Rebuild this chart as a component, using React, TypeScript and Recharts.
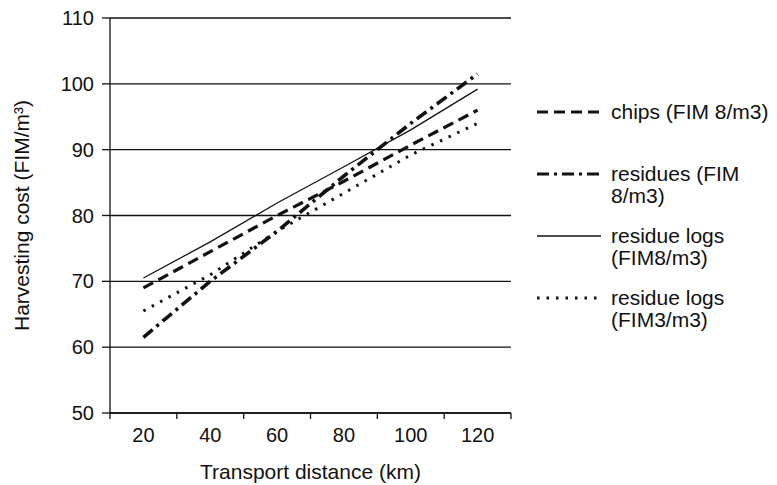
import { LineChart, Line, XAxis, YAxis, CartesianGrid } from 'recharts';

const DISTANCES = [20, 40, 60, 80, 100, 120];
const CHIPS = [69, 74.5, 80, 85.2, 90.7, 96];
const RESIDUES = [61.5, 70, 77.6, 86, 94, 101.5];
const RESIDUE_LOGS_8 = [70.5, 76, 81.9, 87.4, 93, 99.2];
const RESIDUE_LOGS_3 = [65.5, 71, 77.6, 83.4, 89.2, 94];

const X_TICKS = [10, 20, 30, 40, 50, 60, 70, 80, 90, 100, 110, 120, 130];
const Y_TICKS = [50, 60, 70, 80, 90, 100, 110];

const FONT = '"Liberation Sans", Arial, sans-serif';
const INK = '#111';
const TICK = 6;

const SERIES = [
  { key: 'chips', label: ['chips (FIM 8/m3)'], width: 3.2, dash: '11 6' },
  { key: 'residues', label: ['residues (FIM', '8/m3)'], width: 3.6, dash: '12 5 3 5' },
  { key: 'logs8', label: ['residue logs', '(FIM8/m3)'], width: 1.3, dash: undefined },
  { key: 'logs3', label: ['residue logs', '(FIM3/m3)'], width: 3, dash: '2.5 7' },
];

const data = DISTANCES.map((x, i) => ({
  x,
  chips: CHIPS[i],
  residues: RESIDUES[i],
  logs8: RESIDUE_LOGS_8[i],
  logs3: RESIDUE_LOGS_3[i],
}));

// categories sit between the tick marks, like the old spreadsheet chart
function DistanceTick({ x, y, payload }: { x: number; y: number; payload: { value: number } }) {
  const v = payload.value;
  if (v % 20 !== 0) {
    return <line x1={x} x2={x} y1={y - TICK} y2={y} stroke={INK} strokeWidth={1.3} />;
  }
  return (
    <text x={x} y={y + 16} textAnchor="middle" dominantBaseline="central" fontSize={20} fontFamily={FONT} fill={INK}>
      {v}
    </text>
  );
}

function LegendBox() {
  return (
    <div style={{ position: 'absolute', left: 535, top: 101, fontFamily: FONT, fontSize: 21, color: INK }}>
      {SERIES.map((s) => (
        <div key={s.key} style={{ display: 'flex', height: 62, lineHeight: '22px' }}>
          <svg width={70} height={22} style={{ flexShrink: 0 }}>
            <line x1={2} x2={66} y1={11} y2={11} stroke={INK} strokeWidth={Math.min(s.width, 3)} strokeDasharray={s.dash} />
          </svg>
          <div style={{ marginLeft: 6 }}>
            {s.label.map((t) => (
              <div key={t}>{t}</div>
            ))}
          </div>
        </div>
      ))}
    </div>
  );
}

export default function App() {
  return (
    <div style={{ position: 'absolute', left: 0, top: 0, width: 777, height: 485, background: '#fff' }}>
      <LineChart width={777} height={485} data={data} margin={{ top: 18, right: 266, bottom: 0, left: 0 }}>
        <CartesianGrid vertical={false} stroke={INK} strokeWidth={1.3} />
        <XAxis
          dataKey="x"
          type="number"
          domain={[10, 130]}
          ticks={X_TICKS}
          interval={0}
          height={72}
          tickLine={false}
          tickSize={TICK}
          tickMargin={0}
          tick={DistanceTick}
          stroke={INK}
          strokeWidth={1.3}
          label={{
            value: 'Transport distance (km)',
            position: 'insideBottom',
            offset: 6,
            fontSize: 21,
            fontFamily: FONT,
            fill: INK,
          }}
        />
        <YAxis
          type="number"
          domain={[50, 110]}
          ticks={Y_TICKS}
          width={110}
          tickSize={8}
          tickMargin={8}
          stroke={INK}
          strokeWidth={1.3}
          tick={{ fontSize: 20, fontFamily: FONT, fill: INK }}
          label={{
            value: 'Harvesting cost (FIM/m³)',
            angle: -90,
            position: 'insideLeft',
            offset: 22,
            fontSize: 21,
            fontFamily: FONT,
            fill: INK,
            style: { textAnchor: 'middle' },
          }}
        />
        {SERIES.map((s) => (
          <Line
            key={s.key}
            dataKey={s.key}
            type="linear"
            stroke={INK}
            strokeWidth={s.width}
            strokeDasharray={s.dash}
            dot={false}
            activeDot={false}
            isAnimationActive={false}
          />
        ))}
      </LineChart>
      <LegendBox />
    </div>
  );
}
